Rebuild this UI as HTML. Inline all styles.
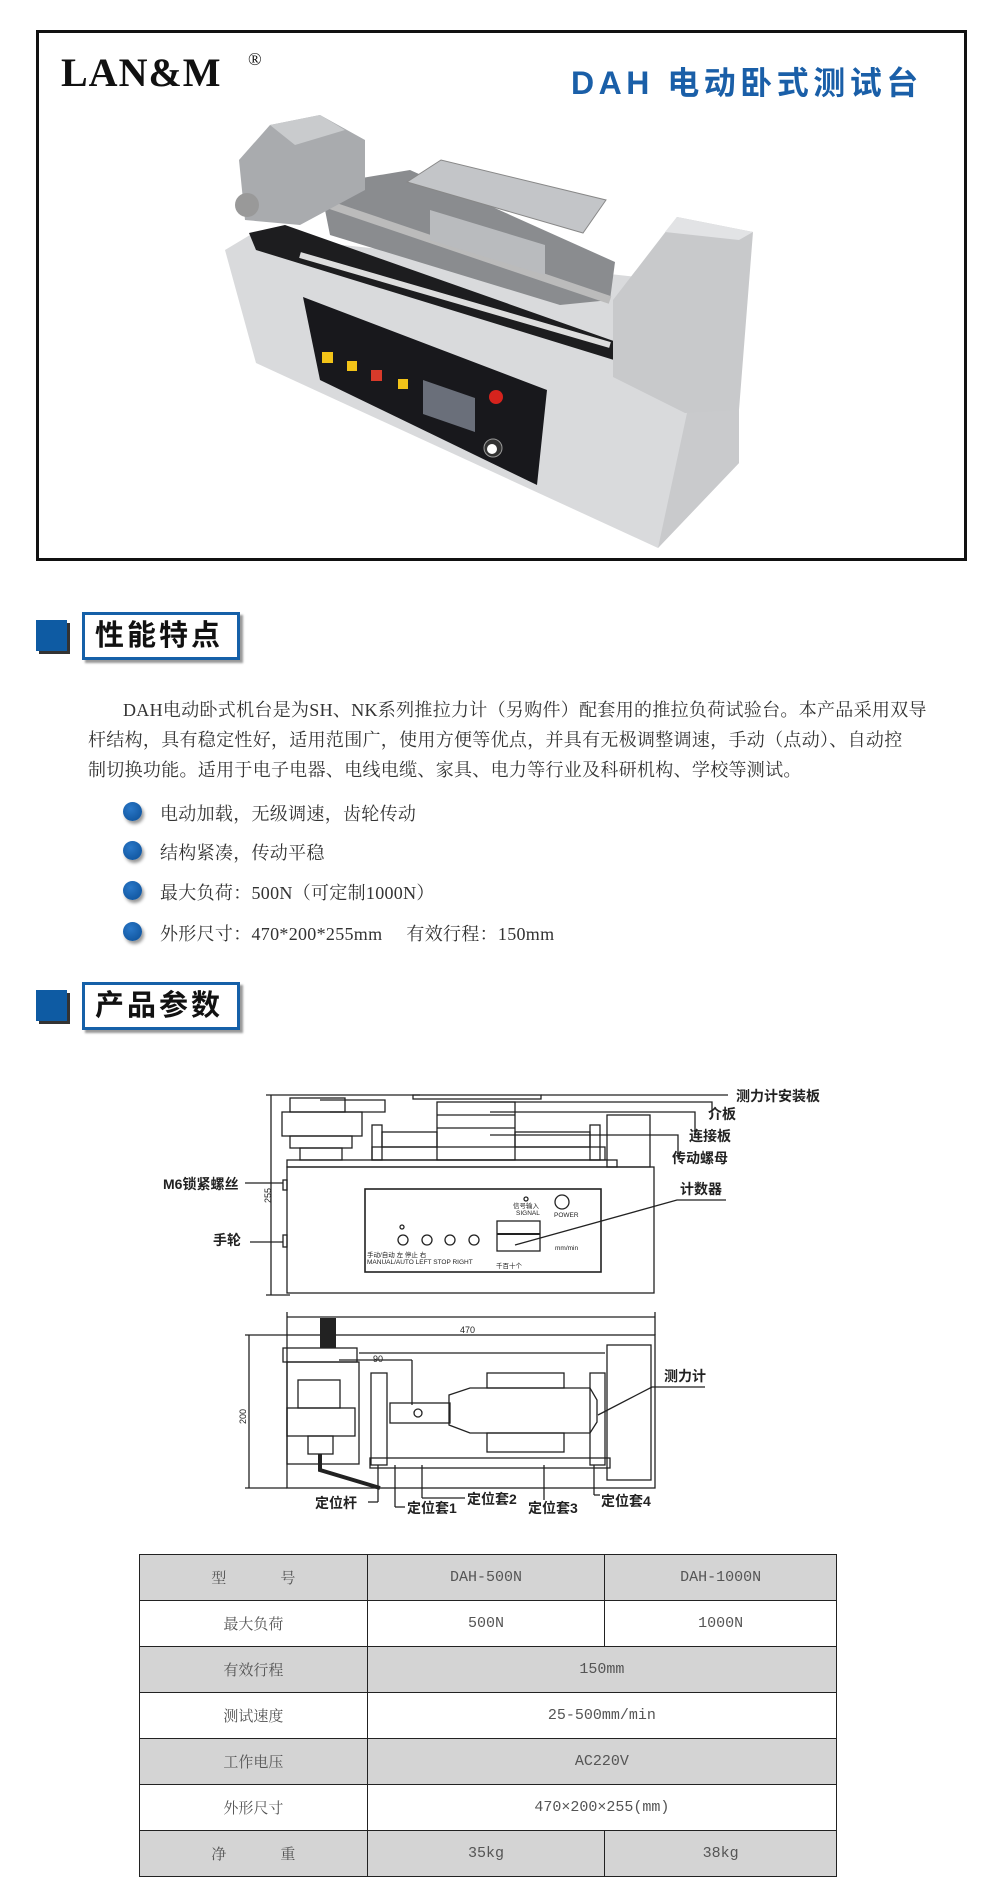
<!DOCTYPE html>
<html><head><meta charset="utf-8">
<style>
*{margin:0;padding:0;box-sizing:border-box}
body{width:1000px;height:1893px;background:#fff;position:relative;overflow:hidden;font-family:"Liberation Serif","Noto Serif CJK SC",serif;color:#333}
.a{position:absolute;white-space:nowrap}
.frame{left:36px;top:30px;width:931px;height:531px;border:3px solid #111}
.sq{width:31px;height:31px;background:#0e5ba3;box-shadow:3px 3px 0 #333}
.hb{width:158px;height:48px;border:3px solid #1560a8;box-shadow:3px 3px 2px #999;font-family:"Liberation Sans","Noto Sans CJK SC",sans-serif;font-weight:bold;font-size:29px;line-height:42px;padding-left:10px;letter-spacing:3px;color:#111}
.p{font-size:18px;color:#333;letter-spacing:0.3px}
.dot{width:19px;height:19px;border-radius:50%;background:radial-gradient(circle at 40% 35%,#2a78c8,#0a4d95);box-shadow:2px 3px 3px #999}
.lb{font-family:"Liberation Sans","Noto Sans CJK SC",sans-serif;font-weight:bold;font-size:14px;color:#222}
table{position:absolute;left:139px;top:1554px;width:698px;border-collapse:collapse;font-family:"Liberation Mono","Noto Serif CJK SC",monospace;font-size:15px;color:#555}
td{border:1.5px solid #222;height:46px;text-align:center}
tr.g td{background:#d4d4d4}
</style></head><body>
<div class="a frame"></div>
<div class="a" style="left:61px;top:49px;font-family:'Liberation Serif',serif;font-weight:bold;font-size:40px;color:#111;letter-spacing:1px">LAN&amp;M</div>
<div class="a" style="left:248px;top:49px;font-family:'Liberation Serif',serif;font-size:18px;color:#111">®</div>
<div class="a" style="left:571px;top:58px;font-family:'Liberation Sans','Noto Sans CJK SC',sans-serif;font-weight:bold;font-size:32px;color:#1a5fa8;letter-spacing:4.5px">DAH 电动卧式测试台</div>

<svg class="a" style="left:0;top:0" width="1000" height="580">
<polygon points="225,250 250,235 739,288 739,463 658,548 256,363" fill="#d9dadc"/>
<polygon points="687,413 739,380 739,463 658,548" fill="#c9cacc"/>
<polygon points="249,233 285,225 625,345 614,360 256,250" fill="#1d1d1f"/>
<polygon points="303,297 547,390 537,485 320,380" fill="#18181c"/>
<rect x="322" y="352" width="11" height="11" fill="#f2c318"/>
<rect x="347" y="361" width="10" height="10" fill="#f2c318"/>
<rect x="371" y="370" width="11" height="11" fill="#d83a2a"/>
<rect x="398" y="379" width="10" height="10" fill="#f2c318"/>
<polygon points="423,380 475,398 475,432 423,414" fill="#6a6f7a"/>
<circle cx="496" cy="397" r="7" fill="#d5231d"/>
<circle cx="493" cy="448" r="9" fill="#333" stroke="#999"/><circle cx="492" cy="449" r="5" fill="#fff"/>
<polygon points="613,300 677,217 753,232 739,410 685,413 613,377" fill="#c8c9cb"/>
<polygon points="677,217 753,232 739,240 665,232" fill="#e2e3e5"/>
<polygon points="320,185 410,170 615,262 610,300 560,305 330,235" fill="#8a8c8f"/>
<line x1="300" y1="255" x2="610" y2="345" stroke="#ddd" stroke-width="6"/>
<line x1="330" y1="205" x2="610" y2="300" stroke="#bbb" stroke-width="8"/>
<polygon points="407,182 441,160 606,200 583,233" fill="#c3c5c8" stroke="#888"/>
<polygon points="430,210 545,245 545,275 430,240" fill="#b9bbbe"/>
<polygon points="239,160 270,125 320,115 365,140 365,190 300,225 245,220" fill="#a9abae"/>
<polygon points="270,125 320,115 345,130 295,145" fill="#c9cbcd"/>
<ellipse cx="247" cy="205" rx="12" ry="12" fill="#999"/>
</svg>

<div class="a sq" style="left:36px;top:620px"></div>
<div class="a hb" style="left:82px;top:612px">性能特点</div>
<div class="a p" style="left:123px;top:696px">DAH电动卧式机台是为SH、NK系列推拉力计（另购件）配套用的推拉负荷试验台。本产品采用双导</div>
<div class="a p" style="left:88px;top:726px">杆结构，具有稳定性好，适用范围广，使用方便等优点，并具有无极调整调速，手动（点动）、自动控</div>
<div class="a p" style="left:88px;top:756px">制切换功能。适用于电子电器、电线电缆、家具、电力等行业及科研机构、学校等测试。</div>
<div class="a dot" style="left:123px;top:802px"></div><div class="a p" style="left:160px;top:800px">电动加载，无级调速，齿轮传动</div>
<div class="a dot" style="left:123px;top:841px"></div><div class="a p" style="left:160px;top:839px">结构紧凑，传动平稳</div>
<div class="a dot" style="left:123px;top:881px"></div><div class="a p" style="left:160px;top:879px">最大负荷：500N（可定制1000N）</div>
<div class="a dot" style="left:123px;top:922px"></div><div class="a p" style="left:160px;top:920px">外形尺寸：470*200*255mm &nbsp;&nbsp;&nbsp;&nbsp;有效行程：150mm</div>

<div class="a sq" style="left:36px;top:990px"></div>
<div class="a hb" style="left:82px;top:982px">产品参数</div>

<svg class="a" style="left:0;top:0" width="1000" height="1893" viewBox="0 0 1000 1893">
<g fill="none" stroke="#222" stroke-width="1.3">
<line x1="271" y1="1095" x2="271" y2="1295"/><line x1="266" y1="1095" x2="420" y2="1095"/><line x1="266" y1="1295" x2="290" y2="1295"/>
<rect x="287" y="1167" width="367" height="126"/>
<rect x="365" y="1189" width="236" height="83" stroke-width="1.6"/>
<rect x="413" y="1095" width="128" height="4"/>
<rect x="437" y="1102" width="78" height="58"/>
<line x1="437" y1="1115" x2="515" y2="1115"/><line x1="437" y1="1128" x2="515" y2="1128"/>
<rect x="607" y="1115" width="43" height="52"/>
<rect x="372" y="1147" width="233" height="13"/>
<rect x="372" y="1125" width="10" height="35"/><rect x="590" y="1125" width="10" height="35"/>
<rect x="382" y="1132" width="55" height="15"/><rect x="515" y="1132" width="75" height="15"/>
<rect x="290" y="1098" width="55" height="14"/>
<rect x="282" y="1112" width="80" height="24"/>
<rect x="290" y="1136" width="62" height="12"/>
<rect x="300" y="1148" width="42" height="12"/>
<rect x="287" y="1160" width="330" height="7"/>
<path d="M320 1100 L385 1100 L385 1112 L330 1112"/>
<rect x="283" y="1180" width="4" height="10"/><rect x="283" y="1235" width="4" height="12"/>
<circle cx="403" cy="1240" r="5"/><circle cx="427" cy="1240" r="5"/><circle cx="450" cy="1240" r="5"/><circle cx="474" cy="1240" r="5"/>
<circle cx="402" cy="1227" r="2"/><circle cx="526" cy="1199" r="2"/>
<circle cx="562" cy="1202" r="7"/>
<rect x="497" y="1221" width="43" height="30"/><line x1="497" y1="1234" x2="540" y2="1234" stroke-width="2"/>
<line x1="541" y1="1095" x2="728" y2="1095"/>
<path d="M490 1102 L712 1102 L712 1116"/>
<path d="M490 1112 L695 1112 L695 1138"/>
<path d="M490 1135 L678 1135 L678 1158"/>
<path d="M515 1245 L677 1200 L726 1200"/>
<line x1="245" y1="1183" x2="283" y2="1183"/><line x1="250" y1="1242" x2="283" y2="1242"/>
<line x1="287" y1="1317" x2="655" y2="1317"/><line x1="287" y1="1312" x2="287" y2="1335"/><line x1="655" y1="1312" x2="655" y2="1335"/>
<rect x="287" y="1335" width="368" height="153"/>
<line x1="249" y1="1335" x2="249" y2="1488"/><line x1="245" y1="1335" x2="287" y2="1335"/><line x1="245" y1="1488" x2="287" y2="1488"/>
<line x1="359" y1="1353" x2="605" y2="1353"/>
<rect x="607" y="1345" width="44" height="135"/>
<rect x="283" y="1348" width="74" height="14"/>
<rect x="287" y="1362" width="72" height="102"/>
<rect x="298" y="1380" width="42" height="28"/>
<rect x="287" y="1408" width="68" height="28"/>
<rect x="308" y="1436" width="25" height="18"/>
<path d="M320 1454 L320 1470 L380 1488" stroke-width="4"/>
<rect x="371" y="1373" width="16" height="92"/>
<rect x="390" y="1403" width="60" height="20"/>
<path d="M449 1395 L470 1388 L590 1388 L597 1400 L597 1422 L590 1433 L470 1433 L449 1425 Z"/>
<rect x="487" y="1373" width="77" height="15"/><rect x="487" y="1433" width="77" height="19"/>
<rect x="590" y="1373" width="15" height="92"/>
<rect x="370" y="1458" width="240" height="10"/>
<line x1="339" y1="1360" x2="412" y2="1360"/><line x1="412" y1="1360" x2="412" y2="1405"/>
<circle cx="418" cy="1413" r="4"/>
<line x1="378" y1="1465" x2="378" y2="1502"/><line x1="378" y1="1502" x2="368" y2="1502"/>
<line x1="395" y1="1465" x2="395" y2="1507"/><line x1="395" y1="1507" x2="405" y2="1507"/>
<line x1="422" y1="1465" x2="422" y2="1498"/><line x1="422" y1="1498" x2="465" y2="1498"/>
<line x1="544" y1="1465" x2="544" y2="1500"/>
<line x1="594" y1="1465" x2="594" y2="1495"/><line x1="594" y1="1495" x2="600" y2="1495"/>
<path d="M598 1415 L652 1387 L705 1387"/>
</g>
<g fill="#222"><rect x="320" y="1318" width="16" height="30"/></g>
<g font-family="Liberation Sans, sans-serif" font-size="9" fill="#222">
<text x="460" y="1333">470</text><text x="373" y="1362">90</text>
<text transform="translate(271,1203) rotate(-90)">255</text>
<text transform="translate(246,1424) rotate(-90)">200</text>
<text x="367" y="1257" font-size="6.5">手动/自动 左  停止  右</text>
<text x="367" y="1264" font-size="6.5">MANUAL/AUTO LEFT STOP RIGHT</text>
<text x="513" y="1208" font-size="6.5">信号输入</text><text x="516" y="1215" font-size="6.5">SIGNAL</text>
<text x="554" y="1217" font-size="6.5">POWER</text><text x="555" y="1250" font-size="6.5">mm/min</text>
<text x="496" y="1268" font-size="6.5">千百十个</text>
</g>
</svg>
<div class="a lb" style="left:736px;top:1086px">测力计安装板</div>
<div class="a lb" style="left:708px;top:1104px">介板</div>
<div class="a lb" style="left:689px;top:1126px">连接板</div>
<div class="a lb" style="left:672px;top:1148px">传动螺母</div>
<div class="a lb" style="left:680px;top:1179px">计数器</div>
<div class="a lb" style="left:163px;top:1174px">M6锁紧螺丝</div>
<div class="a lb" style="left:213px;top:1230px">手轮</div>
<div class="a lb" style="left:664px;top:1366px">测力计</div>
<div class="a lb" style="left:315px;top:1493px">定位杆</div>
<div class="a lb" style="left:407px;top:1498px">定位套1</div>
<div class="a lb" style="left:467px;top:1489px">定位套2</div>
<div class="a lb" style="left:528px;top:1498px">定位套3</div>
<div class="a lb" style="left:601px;top:1491px">定位套4</div>

<table>
<colgroup><col style="width:228px"><col style="width:238px"><col style="width:232px"></colgroup>
<tr class="g"><td>型&nbsp;&nbsp;&nbsp;&nbsp;&nbsp;&nbsp;号</td><td>DAH-500N</td><td>DAH-1000N</td></tr>
<tr><td>最大负荷</td><td>500N</td><td>1000N</td></tr>
<tr class="g"><td>有效行程</td><td colspan="2">150mm</td></tr>
<tr><td>测试速度</td><td colspan="2">25-500mm/min</td></tr>
<tr class="g"><td>工作电压</td><td colspan="2">AC220V</td></tr>
<tr><td>外形尺寸</td><td colspan="2">470×200×255(mm)</td></tr>
<tr class="g"><td>净&nbsp;&nbsp;&nbsp;&nbsp;&nbsp;&nbsp;重</td><td>35kg</td><td>38kg</td></tr>
</table>
</body></html>
